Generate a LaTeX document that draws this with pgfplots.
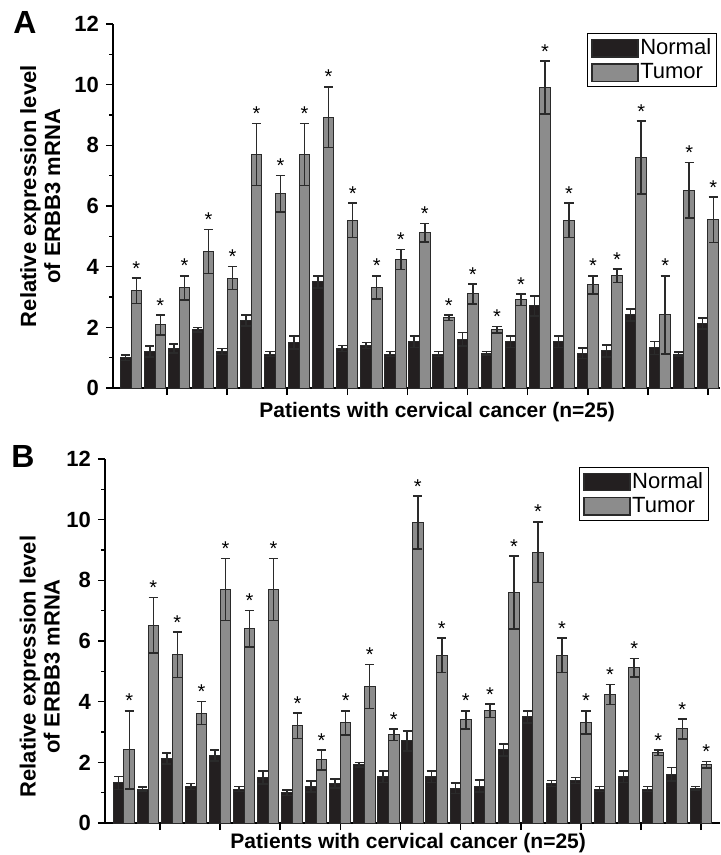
\documentclass[border=0pt]{standalone}
\usepackage{fontspec}
\setmainfont{Liberation Sans}
\usepackage{pgfplots}
\usepackage{pgfplotstable}
\pgfplotsset{compat=1.18}
\definecolor{normalfill}{HTML}{231F20}
\definecolor{tumorfill}{HTML}{8C8C8C}
\definecolor{edge}{HTML}{2A2A2A}

% x = patient, n/ne = normal mean/error, t/te = tumor mean/error
\pgfplotstableread{
x n ne t te
1 1.00 0.09 3.20 0.42
2 1.21 0.18 2.08 0.33
3 1.30 0.15 3.30 0.40
4 1.92 0.08 4.50 0.72
5 1.20 0.10 3.62 0.38
6 2.22 0.18 7.70 1.02
7 1.12 0.08 6.40 0.60
8 1.50 0.22 7.70 1.02
9 3.50 0.20 8.93 1.00
10 1.30 0.10 5.53 0.57
11 1.40 0.10 3.32 0.38
12 1.12 0.08 4.23 0.33
13 1.53 0.19 5.12 0.30
14 1.12 0.08 2.32 0.09
15 1.61 0.22 3.10 0.33
16 1.15 0.06 1.92 0.10
17 1.53 0.19 2.91 0.19
18 2.71 0.33 9.91 0.87
19 1.53 0.19 5.53 0.57
20 1.15 0.17 3.40 0.30
21 1.22 0.19 3.70 0.22
22 2.41 0.20 7.60 1.20
23 1.32 0.21 2.41 1.29
24 1.12 0.06 6.52 0.91
25 2.12 0.18 5.55 0.75
}\dataA

\pgfplotstableread{
x n ne t te
1 1.32 0.21 2.41 1.29
2 1.12 0.06 6.52 0.91
3 2.12 0.18 5.55 0.75
4 1.20 0.10 3.62 0.38
5 2.22 0.18 7.70 1.02
6 1.12 0.08 6.40 0.60
7 1.50 0.22 7.70 1.02
8 1.00 0.09 3.20 0.42
9 1.21 0.18 2.08 0.33
10 1.30 0.15 3.30 0.40
11 1.92 0.08 4.50 0.72
12 1.53 0.19 2.91 0.19
13 2.71 0.33 9.91 0.87
14 1.53 0.19 5.53 0.57
15 1.15 0.17 3.40 0.30
16 1.22 0.19 3.70 0.22
17 2.41 0.20 7.60 1.20
18 3.50 0.20 8.93 1.00
19 1.30 0.10 5.53 0.57
20 1.40 0.10 3.32 0.38
21 1.12 0.08 4.23 0.33
22 1.53 0.19 5.12 0.30
23 1.12 0.08 2.32 0.09
24 1.61 0.22 3.10 0.33
25 1.15 0.06 1.92 0.10
}\dataB

\pgfplotsset{
  panel/.style={
    scale only axis, height=182pt, ymin=0, ymax=12,
    axis x line*=bottom, axis y line*=left,
    axis line style={line width=1pt, -},
    tick align=outside, tick style={line width=0.8pt, black},
    major tick length=3.5pt, minor tick length=2pt,
    ytick={0,2,...,12}, minor ytick={1,3,...,11},
    xtick={2.5,5,...,25}, xticklabels={},
    /pgf/number format/assume math mode=true,
    yticklabel style={font=\bfseries\fontsize{11}{11}\selectfont},
    ylabel={Relative expression level\\of ERBB3 mRNA},
    ylabel style={align=center, anchor=center, font=\bfseries\fontsize{11}{12}\selectfont},
    xlabel={Patients with cervical cancer (n=25)},
    xlabel style={font=\bfseries\fontsize{10.5}{12}\selectfont, anchor=north, inner sep=0pt},
    clip=false,
    legend style={draw=black, line width=0.6pt, font=\fontsize{11}{12}\selectfont,
      anchor=north east, inner sep=1.8pt, row sep=1.2pt, nodes={inner sep=0.8pt},
      /tikz/every even column/.append style={column sep=3pt}},
    legend cell align=left,
  },
  barN/.style={ybar, bar width=0.44, bar shift=0, fill=normalfill, draw=edge, line width=0.5pt,
    legend image code/.code={\draw[##1,/tikz/.cd,line width=0.6pt] (0pt,-4.3pt) rectangle (23pt,4.3pt);},
    error bars/.cd, y dir=both, y explicit,
    error bar style={line width=0.75pt, edge},
    error mark options={rotate=90, mark size=2.3pt, line width=0.75pt, edge}},
  barT/.style={ybar, bar width=0.44, bar shift=0, fill=tumorfill, draw=edge, line width=0.5pt,
    legend image code/.code={\draw[##1,/tikz/.cd,line width=0.6pt] (0pt,-4.3pt) rectangle (23pt,4.3pt);},
    error bars/.cd, y dir=both, y explicit,
    error bar style={line width=0.75pt, edge},
    error mark options={rotate=90, mark size=2.3pt, line width=0.75pt, edge}},
  stars/.style={draw=none, mark=none, forget plot, nodes near coords={*},
    every node near coord/.append style={font=\fontsize{10}{10}\selectfont, anchor=south,
      inner sep=0pt, yshift=1.2pt, text=black}},
}

\begin{document}
\begin{tikzpicture}
\useasboundingbox (0,0) rectangle (360pt,-427.5pt);

\node[font=\bfseries\fontsize{16}{16}\selectfont] at (12.5pt,-11pt) {A};
\node[font=\bfseries\fontsize{16}{16}\selectfont] at (11.5pt,-228pt) {B};

\begin{axis}[panel, at={(56.5pt,-194pt)}, anchor=south west,
  width=303.5pt, xmin=0.25, xmax=25.5,
  legend style={at={(0.995,0.975)}},
  ylabel style={at={(axis description cs:-0.12,0.527)}},
  xlabel style={at={(axis description cs:0.534,0)}, yshift=-7pt}]
\addplot[barN] table[x expr=\thisrow{x}-0.22, y=n, y error=ne] {\dataA};
\addplot[barT] table[x expr=\thisrow{x}+0.22, y=t, y error=te] {\dataA};
\addplot[stars] table[x expr=\thisrow{x}+0.22, y expr=\thisrow{t}+\thisrow{te}] {\dataA};
\legend{Normal, Tumor}
\end{axis}

\begin{axis}[panel, at={(52.5pt,-411.5pt)}, anchor=south west,
  width=307.5pt, xmin=0.21, xmax=25.79,
  legend style={at={(0.982,0.978)}},
  ylabel style={at={(axis description cs:-0.106,0.43)}},
  xlabel style={at={(axis description cs:0.493,0)}, yshift=-5pt}]
\addplot[barN] table[x expr=\thisrow{x}-0.22, y=n, y error=ne] {\dataB};
\addplot[barT] table[x expr=\thisrow{x}+0.22, y=t, y error=te] {\dataB};
\addplot[stars] table[x expr=\thisrow{x}+0.22, y expr=\thisrow{t}+\thisrow{te}] {\dataB};
\legend{Normal, Tumor}
\end{axis}
\end{tikzpicture}
\end{document}
